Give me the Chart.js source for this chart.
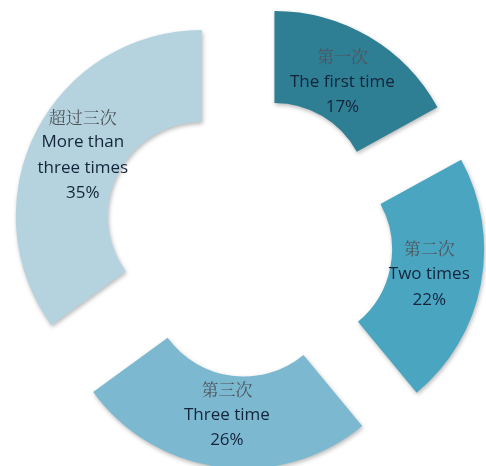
<!DOCTYPE html>
<html>
<head>
<meta charset="utf-8">
<script src="https://cdn.jsdelivr.net/npm/chart.js@4.4.1/dist/chart.umd.min.js"></script>
<style>
  html, body { margin: 0; padding: 0; background: #fff; }
</style>
</head>
<body>
<canvas id="myChart" width="486" height="466"></canvas>
<script>
const namesCn = ["第一次", "第二次", "第三次", "超过三次"];
const namesEn = [["The first time"], ["Two times"], ["Three time"], ["More than", "three times"]];
const shares = [17, 22, 26, 35];

const sliceColors = ["#2e7e94", "#4aa5c1", "#7cb9d1", "#b5d3df"];
// how far each slice is pulled out from the centre, px
const pullOut = [50, 50, 43, 53];

// doughnut that pulls every slice outwards without growing its radius
class ExplodedDoughnut extends Chart.DoughnutController {
  draw() {
    const ctx = this.chart.ctx;
    const area = this.chart.chartArea;
    this._cachedMeta.data.forEach((arc, i) => {
      const mid = (arc.startAngle + arc.endAngle) / 2;
      const d = pullOut[i] || 0;
      ctx.save();
      ctx.translate(Math.cos(mid) * d, Math.sin(mid) * d);
      arc.draw(ctx, area);
      ctx.restore();
    });
  }
}
ExplodedDoughnut.id = "explodedDoughnut";
ExplodedDoughnut.defaults = Chart.DoughnutController.defaults;
ExplodedDoughnut.overrides = Chart.DoughnutController.overrides;
Chart.register(ExplodedDoughnut);

// soft drop shadow under the slices
const sliceShadow = {
  id: "sliceShadow",
  beforeDatasetsDraw(chart) {
    const ctx = chart.ctx;
    ctx.save();
    ctx.shadowColor = "rgba(0,0,0,0.28)";
    ctx.shadowBlur = 4;
    ctx.shadowOffsetX = 1;
    ctx.shadowOffsetY = 2;
  },
  afterDatasetsDraw(chart) {
    chart.ctx.restore();
  }
};

// chinese name, english name and percentage inside each slice
const sliceLabels = {
  id: "sliceLabels",
  afterDatasetsDraw(chart) {
    const ctx = chart.ctx;
    const meta = chart.getDatasetMeta(0);
    meta.data.forEach((arc, i) => {
      const mid = (arc.startAngle + arc.endAngle) / 2;
      const r = arc.innerRadius + (arc.outerRadius - arc.innerRadius) * 0.43 + (pullOut[i] || 0);
      const cx = arc.x + Math.cos(mid) * r;
      const cy = arc.y + Math.sin(mid) * r;

      const lines = [{ text: namesCn[i], cn: true }];
      namesEn[i].forEach((t) => lines.push({ text: t }));
      lines.push({ text: shares[i] + "%" });

      const step = 25.5;
      let y = cy - (step * (lines.length - 1)) / 2;
      ctx.save();
      ctx.textAlign = "center";
      ctx.textBaseline = "middle";
      lines.forEach((ln) => {
        if (ln.cn) {
          ctx.font = '17px "Noto Serif CJK SC", "Noto Sans CJK SC", serif';
          ctx.fillStyle = "#4f555b";
        } else {
          ctx.font = '17px "Open Sans", sans-serif';
          ctx.fillStyle = "#14243a";
        }
        ctx.fillText(ln.text, cx, y);
        y += step;
      });
      ctx.restore();
    });
  }
};

const ctx = document.getElementById("myChart");

const data = {
  labels: namesCn,
  datasets: [
    {
      data: shares,
      backgroundColor: sliceColors,
      borderWidth: 0
    }
  ]
};

const config = {
  type: "explodedDoughnut",
  data,
  options: {
    responsive: false,
    animation: false,
    radius: 186,
    cutout: "50.5%",
    layout: { padding: { left: 12, top: 14, right: 0, bottom: 0 } },
    plugins: {
      legend: { display: false },
      tooltip: { enabled: false }
    }
  },
  plugins: [sliceShadow, sliceLabels]
};

let myChart = new Chart(ctx, config);
</script>
</body>
</html>
